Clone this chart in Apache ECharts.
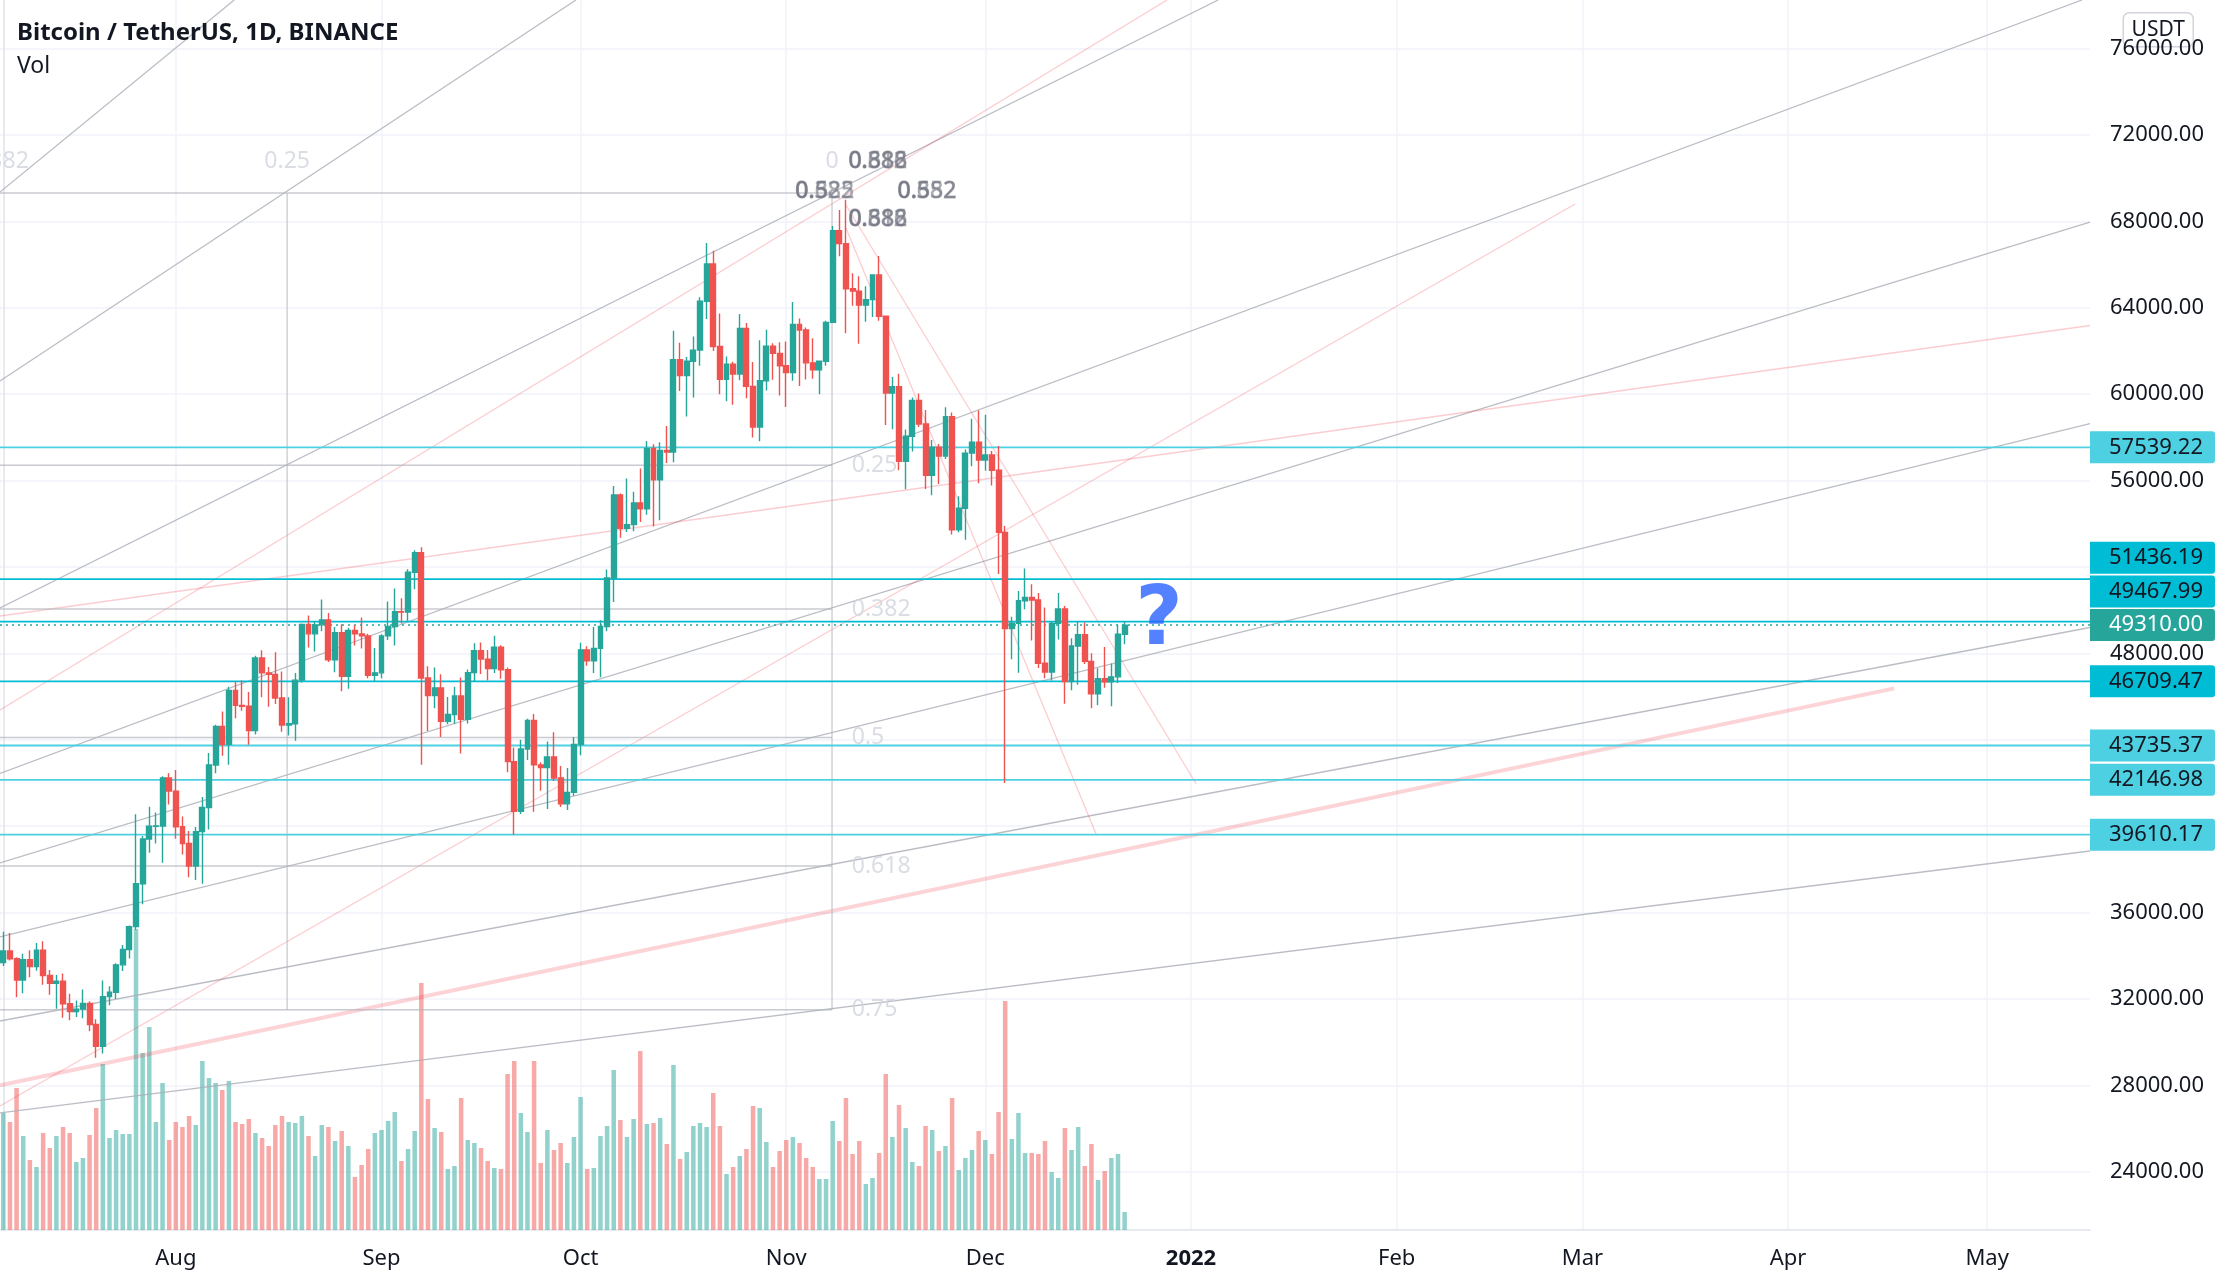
<!DOCTYPE html>
<html>
<head>
<meta charset="utf-8">
<title>Bitcoin / TetherUS, 1D, BINANCE</title>
<script src="https://cdn.jsdelivr.net/npm/echarts@6/dist/echarts.min.js"></script>
<style>
  html, body { margin: 0; background: #ffffff; }
  #chart { width: 2230px; height: 1286px; }
</style>
</head>
<body>
<div id="chart"></div>
<script>
// day index 0 = 2021-07-06, one candle per day up to 2021-12-22 (index 169)
const opens = [
  33690, 34220, 33862, 32875, 33815, 33502, 34259, 33086, 32729, 32820, 31780, 31421, 31533, 31797, 30817, 29807, 32110, 32313, 33581, 34292,
  35350, 37337, 39406, 39995, 40008, 42235, 41626, 39974, 39201, 38153, 39747, 40869, 42836, 44614, 43792, 46285, 45593, 45551, 44428, 47793,
  47097, 47031, 45934, 44686, 44741, 46762, 49339, 48905, 49321, 49546, 47706, 48960, 46942, 49058, 48903, 48811, 46991, 47100, 48811, 49247,
  49929, 49913, 51756, 52663, 46864, 46048, 46396, 44851, 45173, 46026, 44947, 47112, 48122, 47737, 47299, 48293, 47241, 42988, 40694, 43575,
  44895, 42839, 42717, 43208, 42235, 41034, 41564, 43790, 48165, 47657, 48233, 49245, 51493, 55339, 53797, 53963, 54963, 54691, 57484, 56041,
  57401, 57321, 61593, 60860, 61527, 62042, 64303, 66026, 62210, 60693, 61393, 60931, 63039, 60363, 58483, 60622, 62228, 61888, 61319, 61004,
  63227, 62970, 61452, 61125, 61528, 63327, 67566, 66971, 64882, 64774, 64122, 64380, 65520, 63607, 60058, 60345, 56891, 58052, 59707, 58623,
  56247, 57541, 57139, 58960, 53726, 54721, 57274, 57776, 56950, 57184, 56480, 53601, 49153, 49397, 50441, 50588, 50471, 47546, 47140, 49390,
  50053, 46702, 48343, 48864, 47632, 46131, 46834, 46681, 46914, 48889
]
const highs = [
  35118, 35059, 33929, 34100, 34262, 34592, 34678, 33340, 33114, 33185, 32249, 31936, 32435, 31899, 31063, 32858, 32591, 33650, 34500, 35398,
  40550, 39543, 40900, 40640, 42316, 42448, 42599, 40446, 39780, 39969, 41350, 43392, 44700, 45310, 46456, 46700, 46743, 46218, 47886, 48144,
  47373, 48053, 47160, 45969, 47088, 49384, 49757, 49500, 50500, 49875, 49226, 49354, 49185, 49309, 49659, 48909, 48246, 48888, 50400, 51000,
  50558, 51900, 52780, 52920, 47400, 47345, 47033, 45986, 46460, 46880, 47250, 48475, 48500, 48163, 48813, 48372, 47347, 43639, 44000, 44978,
  45200, 42966, 43920, 44350, 42787, 42690, 44132, 48495, 48336, 49228, 49536, 51886, 55750, 55400, 56100, 55489, 56561, 57839, 57680, 57777,
  58532, 62933, 62378, 61718, 62675, 64486, 67000, 66639, 63732, 61747, 61500, 63710, 63293, 61496, 62499, 62980, 62359, 62406, 62437, 64270,
  63500, 63086, 62595, 61560, 63400, 67789, 68531, 69000, 65600, 65460, 65000, 65550, 66401, 63617, 60800, 60948, 58366, 59845, 60029, 59266,
  57875, 57700, 59398, 59150, 55280, 57445, 58865, 59249, 59053, 57375, 57600, 53904, 49699, 50891, 51936, 51200, 50797, 50125, 49485, 50797,
  50189, 48700, 49500, 49436, 48004, 47313, 48300, 47537, 49328, 49500
]
const lows = [
  33532, 33777, 32077, 32261, 33004, 33311, 32658, 32202, 31550, 31133, 31020, 31165, 31109, 30509, 29278, 29482, 31708, 32000, 33302, 33881,
  35205, 36383, 38772, 39200, 38313, 41000, 39422, 38690, 37642, 37508, 37332, 39853, 42450, 43261, 42848, 44999, 45345, 43770, 44247, 45971,
  45525, 45660, 44376, 44204, 43955, 46650, 48270, 48090, 49028, 47600, 47125, 46250, 46364, 48370, 48222, 46853, 46700, 46854, 48620, 48363,
  49385, 49500, 50969, 42843, 44412, 45462, 44132, 44722, 44743, 43370, 44750, 46705, 47044, 46750, 47088, 46829, 42500, 39600, 40565, 43069,
  40675, 41646, 40800, 42098, 40888, 40753, 41410, 43283, 47430, 47088, 46891, 49022, 50382, 53357, 53617, 53661, 54080, 54415, 53879, 54167,
  56818, 56850, 60150, 58963, 59844, 61322, 63481, 62000, 60000, 59668, 59510, 60650, 59817, 58000, 57820, 60174, 60673, 59945, 59405, 60624,
  60382, 60677, 60721, 60000, 61322, 63303, 66382, 62822, 64100, 62333, 63360, 63576, 63400, 58574, 58373, 56474, 55600, 57353, 58486, 55610,
  55317, 55837, 57000, 53500, 53610, 53256, 56666, 55875, 56458, 55777, 51680, 42000, 47727, 47100, 50039, 48600, 47320, 46852, 46751, 48639,
  45672, 46290, 46547, 47511, 45456, 45598, 46406, 45558, 46630, 48421
]
const closes = [
  34220, 33862, 32875, 33815, 33502, 34259, 33086, 32729, 32820, 31780, 31421, 31533, 31797, 30817, 29807, 32110, 32313, 33581, 34292, 35350,
  37337, 39406, 39995, 40008, 42235, 41626, 39974, 39201, 38153, 39747, 40869, 42836, 44614, 43792, 46285, 45593, 45551, 44428, 47793, 47097,
  47031, 45934, 44686, 44741, 46762, 49339, 48905, 49321, 49546, 47706, 48960, 46942, 49058, 48903, 48811, 46991, 47100, 48811, 49247, 49929,
  49913, 51756, 52663, 46864, 46048, 46396, 44851, 45173, 46026, 44947, 47112, 48122, 47737, 47299, 48293, 47241, 42988, 40694, 43575, 44895,
  42839, 42717, 43208, 42235, 41034, 41564, 43790, 48165, 47657, 48233, 49245, 51493, 55339, 53797, 53963, 54963, 54691, 57484, 56041, 57401,
  57321, 61593, 60860, 61527, 62042, 64303, 66026, 62210, 60693, 61393, 60931, 63039, 60363, 58483, 60622, 62228, 61888, 61319, 61004, 63227,
  62970, 61452, 61125, 61528, 63327, 67566, 66971, 64882, 64774, 64122, 64380, 65520, 63607, 60058, 60345, 56891, 58052, 59707, 58623, 56247,
  57541, 57139, 58960, 53726, 54721, 57274, 57776, 56950, 57184, 56480, 53601, 49153, 49397, 50441, 50588, 50471, 47546, 47140, 49390, 50053,
  46702, 48343, 48864, 47632, 46131, 46834, 46681, 46914, 48889, 49310
]
const volumes = [
  117, 108, 142, 94, 70, 63, 97, 82, 94, 103, 97, 68, 72, 95, 122, 166, 92, 100, 96, 96,
  301, 177, 203, 108, 147, 90, 108, 103, 114, 105, 169, 152, 147, 140, 149, 108, 106, 111, 97, 92,
  84, 105, 114, 108, 107, 114, 94, 74, 105, 103, 89, 99, 84, 53, 65, 81, 97, 100, 109, 118,
  69, 81, 99, 247, 131, 102, 98, 61, 64, 132, 90, 87, 82, 69, 62, 61, 156, 169, 117, 98,
  169, 67, 100, 80, 87, 67, 93, 133, 61, 62, 94, 104, 160, 110, 93, 111, 179, 106, 107, 112,
  86, 165, 71, 78, 104, 107, 103, 137, 104, 56, 63, 74, 81, 124, 122, 88, 63, 79, 90, 93,
  87, 72, 63, 51, 51, 109, 89, 132, 76, 89, 46, 52, 77, 156, 93, 125, 102, 68, 64, 104,
  100, 79, 84, 132, 60, 72, 80, 99, 90, 76, 118, 229, 91, 117, 77, 77, 76, 89, 58, 52,
  102, 80, 103, 64, 86, 50, 59, 72, 76, 18
]

// axis: day index from 2021-07-06 to 2022-05-16
const dayMin = -0.5
const dayMax = 314.5
const monthTicks = [26, 57, 87, 118, 148, 179, 210, 238, 269, 299]
const monthLabels = ['Aug', 'Sep', 'Oct', 'Nov', 'Dec', '2022', 'Feb', 'Mar', 'Apr', 'May']
const priceMin = 21306
const priceMax = 78250
const priceTicks = [24000, 28000, 32000, 36000, 40000, 44000, 48000, 52000, 56000, 60000, 64000, 68000, 72000, 76000]

// horizontal levels drawn on the chart
const levelPrices = [57539.22, 51436.19, 49467.99, 46709.47, 43735.37, 42146.98, 39610.17]
const levelTones = ['light', 'dark', 'dark', 'dark', 'light', 'light', 'light']
const lastPrice = 49310.0

// trend lines, [day index, price] pairs
const grayLines = [
  [[-0.5, 69360], [34.8, 78250]],
  [[-0.5, 60611], [86.3, 78250]],
  [[-0.5, 50102], [183.1, 78250]],
  [[-0.5, 42440], [313.3, 78250]],
  [[-0.5, 38297], [314.5, 67972]],
  [[-0.5, 34871], [314.5, 58639]],
  [[-0.5, 30982], [314.5, 49199]],
  [[-0.5, 26731], [314.5, 38852]],
]
const pinkLines = [
  [[-0.5, 45380], [175.4, 78250]],
  [[-0.5, 27047], [236.9, 68806]],
  [[-0.5, 49732], [314.5, 63180]],
  [[127.0, 68759], [179.8, 41954]],
  [[127.0, 67695], [164.7, 39639]],
]
const thickPinkLines = [
  [[-0.5, 28007], [285.0, 46382]],
]

// fib retracement (drawn to the left of day 124.9) and trend-based fib time
const fibHigh = 69315
const fibLow = 18898
const fibLevels = [0, 0.25, 0.382, 0.5, 0.618, 0.75]
const fibEndDay = 124.9
const fibLabelDay = 127.8
const fibTimeStart = 124.9
const fibTimeEnd = -203.6
const fibTimeLevels = [0, 0.25, 0.382]
const fibTimeLabelPrice = 70764

// overlapped labels of stacked fib tools near the top
const stackedLabels = [
  { at: [127.3, 70764], texts: ['0.618', '0.886', '0.382'] },
  { at: [119.3, 69375], texts: ['0.625', '0.382', '0.5'] },
  { at: [134.7, 69375], texts: ['0.652', '0.382', '0.5'] },
  { at: [127.3, 68111], texts: ['0.618', '0.886', '0.382'] },
]
const questionAt = [174.2, 49420]

const UP = '#26a69a'
const DOWN = '#ef5350'
const FONT = 'Noto Sans'

// stack the right-side price tags the way the price scale does
const tagGap = 1560
const tags = [{ price: lastPrice, tone: 'last', slot: lastPrice }]
levelPrices
  .map((p, i) => ({ price: p, tone: levelTones[i] }))
  .sort((a, b) => a.price - b.price)
  .forEach((t) => {
    let slot = t.price
    let moved = true
    while (moved) {
      moved = false
      tags.forEach((o) => {
        if (Math.abs(slot - o.slot) < tagGap) {
          slot = o.slot + tagGap
          moved = true
        }
      })
    }
    tags.push({ price: t.price, tone: t.tone, slot })
  })
const tagBySlot = new Map(tags.map((t) => [t.slot.toFixed(2), t]))
// scale labels hidden behind a tag are not drawn
const visiblePriceLabels = priceTicks.filter((p) => tags.every((t) => Math.abs(t.slot - p) > 900))

const lineSeries = (pts, color, width, z) => ({
  type: 'line',
  data: pts,
  symbol: 'none',
  silent: true,
  animation: false,
  z,
  lineStyle: { color, width },
})

const labelSeries = (items, style, z) => ({
  type: 'scatter',
  data: items.map((it) => ({ value: it.at, label: { formatter: it.text } })),
  symbolSize: 1,
  itemStyle: { color: 'transparent' },
  silent: true,
  clip: false,
  z,
  label: Object.assign({ show: true, fontFamily: FONT }, style),
})

const series = []

series.push({
  type: 'bar',
  xAxisIndex: 1,
  yAxisIndex: 2,
  barWidth: 4.5,
  silent: true,
  z: 1,
  data: volumes.map((v, i) => ({
    value: [i, v],
    itemStyle: { color: closes[i] >= opens[i] ? 'rgba(38,166,154,0.5)' : 'rgba(239,83,80,0.5)' },
  })),
})

grayLines.forEach((l) => series.push(lineSeries(l, 'rgba(170,173,183,0.8)', 1.3, 2)))
pinkLines.forEach((l) => series.push(lineSeries(l, 'rgba(242,54,69,0.25)', 1.3, 2)))
thickPinkLines.forEach((l) => series.push(lineSeries(l, 'rgba(242,54,69,0.22)', 4, 2)))

const fibPrice = (lvl) => fibHigh - (fibHigh - fibLow) * lvl
fibLevels.forEach((lvl) => {
  series.push(lineSeries([[-3, fibPrice(lvl)], [fibEndDay, fibPrice(lvl)]], 'rgba(178,181,190,0.7)', 1.3, 2))
})
fibTimeLevels.forEach((lvl) => {
  const d = fibTimeStart + (fibTimeEnd - fibTimeStart) * lvl
  series.push(lineSeries([[d, fibHigh], [d, fibPrice(0.75)]], 'rgba(178,181,190,0.7)', 1.3, 2))
})

levelPrices.forEach((p, i) => {
  series.push(lineSeries([[dayMin, p], [dayMax, p]], levelTones[i] === 'dark' ? '#00bcd4' : '#4dd0e1', 1.8, 3))
})
series.push({
  type: 'line',
  data: [[dayMin, lastPrice], [dayMax, lastPrice]],
  symbol: 'none',
  silent: true,
  z: 3,
  lineStyle: { color: UP, width: 1.5, type: [2, 4] },
})

series.push({
  type: 'candlestick',
  xAxisIndex: 0,
  yAxisIndex: 0,
  barWidth: 5.4,
  silent: true,
  z: 4,
  encode: { x: 0, y: [1, 2, 3, 4] },
  data: closes.map((c, i) => [i, opens[i], c, lows[i], highs[i]]),
  itemStyle: { color: UP, color0: DOWN, borderColor: UP, borderColor0: DOWN, borderWidth: 1.4 },
})

series.push(labelSeries(
  fibLevels.filter((l) => l > 0).map((l) => ({ at: [fibLabelDay, fibPrice(l)], text: String(l) })),
  { position: 'right', distance: 0, fontSize: 23, color: '#d1d4dc' }, 5))
series.push(labelSeries(
  fibTimeLevels.map((l) => ({ at: [fibTimeStart + (fibTimeEnd - fibTimeStart) * l, fibTimeLabelPrice], text: String(l) })),
  { position: 'inside', fontSize: 23, color: '#d1d4dc' }, 5))
stackedLabels.forEach((s) => {
  series.push(labelSeries(
    s.texts.map((t) => ({ at: s.at, text: t })),
    { position: 'right', distance: 0, fontSize: 23, color: 'rgba(110,113,124,0.7)', textBorderColor: 'rgba(150,153,162,0.5)', textBorderWidth: 1 }, 5))
})
series.push(labelSeries(
  [{ at: questionAt, text: '?' }],
  { position: 'inside', fontSize: 82, fontWeight: 'bold', color: '#2962ff', fontFamily: 'DejaVu Sans' }, 6))

const tagStyle = (bg, fg) => ({
  backgroundColor: bg, color: fg, fontSize: 22, fontFamily: FONT,
  padding: [5, 12, 5, 19], borderRadius: [0, 3, 3, 0], lineHeight: 25,
})

const option = {
  animation: false,
  backgroundColor: '#ffffff',
  textStyle: { fontFamily: FONT },
  title: {
    text: 'Bitcoin / TetherUS, 1D, BINANCE',
    subtext: 'Vol',
    left: 12,
    top: 16,
    itemGap: 10,
    textStyle: { fontSize: 24, fontWeight: 'bold', color: '#131722', fontFamily: FONT },
    subtextStyle: { fontSize: 23, color: '#131722', fontFamily: FONT },
  },
  grid: [
    { left: 0, right: 140, top: 0, bottom: 56 },
    { left: 0, right: 140, top: 0, bottom: 56 },
  ],
  xAxis: [
    {
      type: 'value',
      gridIndex: 0,
      min: dayMin,
      max: dayMax,
      axisLine: { show: true, lineStyle: { color: '#e0e3eb', width: 1.5 } },
      axisTick: { show: false, customValues: monthTicks },
      axisLabel: {
        customValues: monthTicks,
        margin: 18,
        fontSize: 22,
        color: '#131722',
        formatter: (v) => {
          const t = monthLabels[monthTicks.indexOf(Math.round(v))] || ''
          return /^\d{4}$/.test(t) ? `{y|${t}}` : t
        },
        rich: { y: { fontSize: 22, fontWeight: 'bold', color: '#131722', fontFamily: FONT } },
      },
      splitLine: { show: true, lineStyle: { color: '#f0f3fa', width: 1.5 } },
    },
    { type: 'value', gridIndex: 1, min: dayMin, max: dayMax, show: false },
  ],
  yAxis: [
    {
      type: 'value',
      gridIndex: 0,
      position: 'right',
      min: priceMin,
      max: priceMax,
      axisLine: { show: true, lineStyle: { color: '#e0e3eb', width: 1.5 } },
      axisTick: { show: false, customValues: priceTicks },
      axisLabel: {
        customValues: visiblePriceLabels,
        margin: 20,
        fontSize: 22,
        color: '#131722',
        formatter: (v) => v.toFixed(2),
      },
      splitLine: { show: true, lineStyle: { color: '#f0f3fa', width: 1.5 } },
    },
    {
      type: 'value',
      gridIndex: 0,
      position: 'right',
      min: priceMin,
      max: priceMax,
      z: 5,
      axisLine: { show: false },
      axisTick: { show: false },
      splitLine: { show: false },
      axisLabel: {
        customValues: tags.map((t) => t.slot),
        margin: 0,
        formatter: (v) => {
          const t = tagBySlot.get(v.toFixed(2))
          return t ? `{${t.tone}|${t.price.toFixed(2)}}` : ''
        },
        rich: {
          dark: tagStyle('#00bcd4', '#131722'),
          light: tagStyle('#4dd0e1', '#131722'),
          last: tagStyle(UP, '#ffffff'),
        },
      },
    },
    { type: 'value', gridIndex: 1, min: 0, max: 1230, show: false },
  ],
  graphic: [
    {
      type: 'group',
      right: 36,
      top: 12,
      z: 100,
      children: [
        { type: 'rect', shape: { x: 0, y: 0, width: 70, height: 34, r: 6 }, style: { fill: '#ffffff', stroke: '#d1d4dc', lineWidth: 1.5 } },
        { type: 'text', x: 35, y: 17, style: { text: 'USDT', fontSize: 21, fontFamily: FONT, fill: '#131722', align: 'center', verticalAlign: 'middle' } },
      ],
    },
  ],
  series,
}

const chart = echarts.init(document.getElementById('chart'))
chart.setOption(option)
window.addEventListener('resize', () => chart.resize())
</script>
</body>
</html>
